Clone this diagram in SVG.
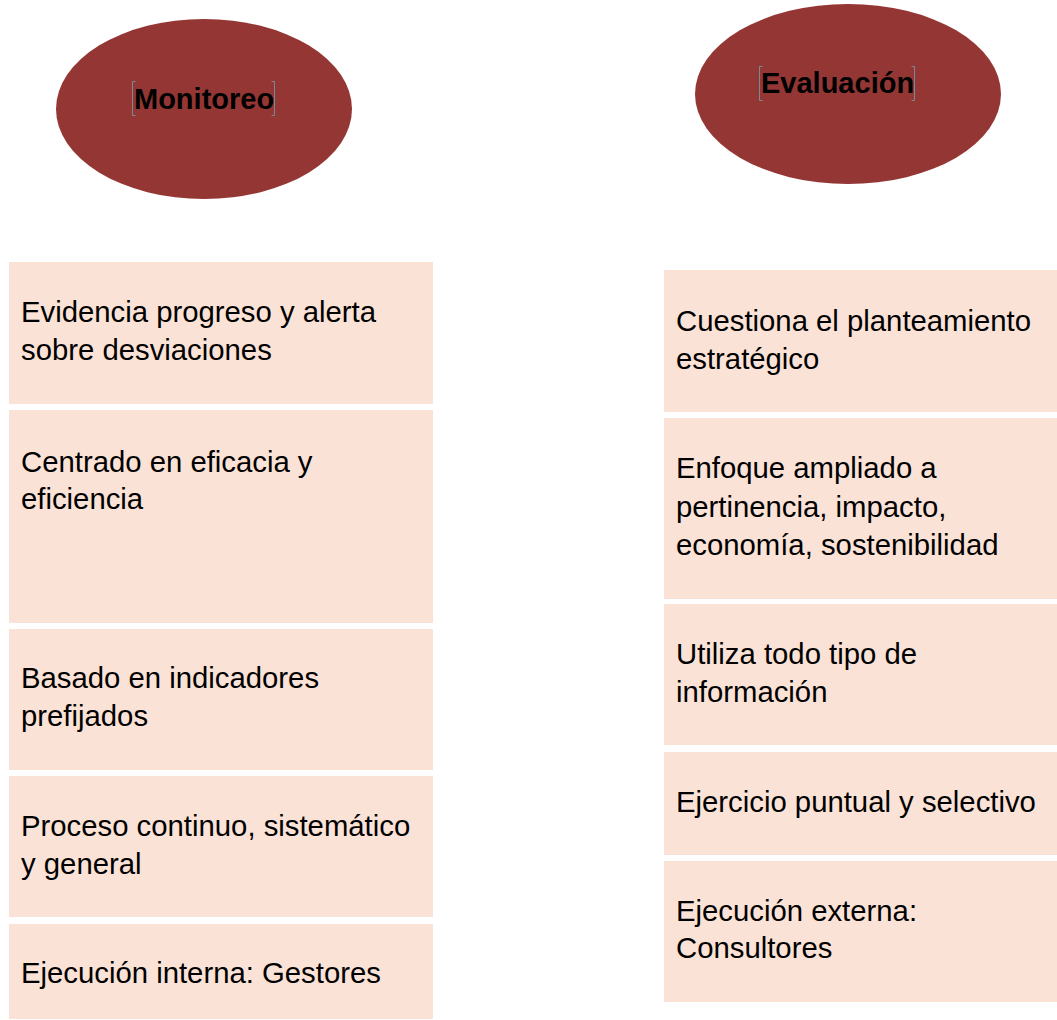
<svg xmlns="http://www.w3.org/2000/svg" width="1057" height="1020" viewBox="0 0 1057 1020">
<style>
.ell{fill:#943634}
.box{fill:#FBE2D6}
.t{font-family:"Liberation Sans",Arial,sans-serif;font-size:29.3px;fill:#000}
.h{font-family:"Liberation Sans",Arial,sans-serif;font-size:29px;font-weight:bold;fill:#000}
.br{fill:none;stroke:#7A8A94;stroke-width:1}
</style>
<rect width="1057" height="1020" fill="#fff"/>
<g id="connectors"/>
<g id="monitoreo">
<ellipse class="ell" cx="204" cy="109" rx="148" ry="90"/>
<path class="br" d="M135.5,81.5 H132.5 V115.5 H135.5 M271.5,81.5 H274.5 V115.5 H271.5"/>
<text class="h" x="134" y="109">Monitoreo</text>
</g>
<g id="evaluacion">
<ellipse class="ell" cx="848" cy="94" rx="153" ry="90"/>
<path class="br" d="M762.5,66.5 H759.5 V100.5 H762.5 M911.5,66.5 H914.5 V100.5 H911.5"/>
<text class="h" x="761" y="93">Evaluación</text>
</g>
<g id="m1">
<rect class="box" x="9" y="262" width="424" height="142"/>
<text class="t" x="21" y="322">Evidencia progreso y alerta</text>
<text class="t" x="21" y="360">sobre desviaciones</text>
</g>
<g id="m2">
<rect class="box" x="9" y="410" width="424" height="213"/>
<text class="t" x="21" y="472">Centrado en eficacia y</text>
<text class="t" x="21" y="509">eficiencia</text>
</g>
<g id="m3">
<rect class="box" x="9" y="629" width="424" height="141"/>
<text class="t" x="21" y="688">Basado en indicadores</text>
<text class="t" x="21" y="726">prefijados</text>
</g>
<g id="m4">
<rect class="box" x="9" y="776" width="424" height="141"/>
<text class="t" x="21" y="836">Proceso continuo, sistemático</text>
<text class="t" x="21" y="874">y general</text>
</g>
<g id="m5">
<rect class="box" x="9" y="924" width="424" height="95"/>
<text class="t" x="21" y="983">Ejecución interna: Gestores</text>
</g>
<g id="e1">
<rect class="box" x="664" y="270" width="393" height="142"/>
<text class="t" x="676" y="331">Cuestiona el planteamiento</text>
<text class="t" x="676" y="369">estratégico</text>
</g>
<g id="e2">
<rect class="box" x="664" y="418" width="393" height="181"/>
<text class="t" x="676" y="478">Enfoque ampliado a</text>
<text class="t" x="676" y="517">pertinencia, impacto,</text>
<text class="t" x="676" y="555">economía, sostenibilidad</text>
</g>
<g id="e3">
<rect class="box" x="664" y="604" width="393" height="141"/>
<text class="t" x="676" y="664">Utiliza todo tipo de</text>
<text class="t" x="676" y="702">información</text>
</g>
<g id="e4">
<rect class="box" x="664" y="752" width="393" height="103"/>
<text class="t" x="676" y="812">Ejercicio puntual y selectivo</text>
</g>
<g id="e5">
<rect class="box" x="664" y="861" width="393" height="141"/>
<text class="t" x="676" y="921">Ejecución externa:</text>
<text class="t" x="676" y="958">Consultores</text>
</g>
</svg>
